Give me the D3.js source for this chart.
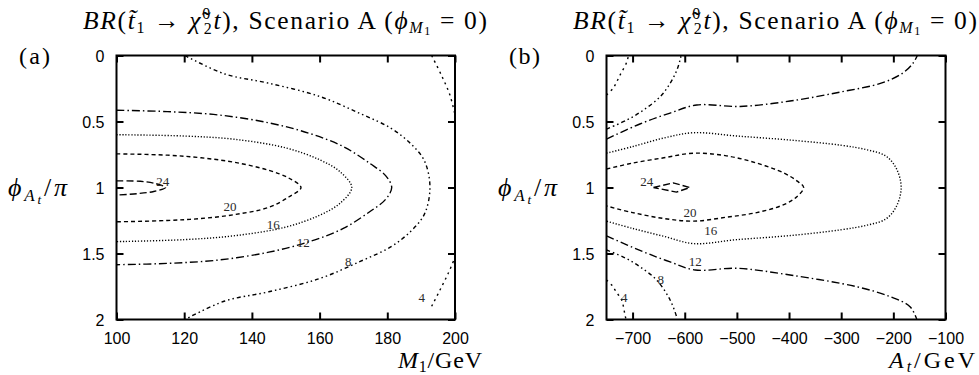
<!DOCTYPE html>
<html>
<head>
<meta charset="utf-8">
<script src="https://cdn.jsdelivr.net/npm/d3@7/dist/d3.min.js"></script>
<style>
  html, body { margin: 0; padding: 0; background: #fff; }
  svg { display: block; }
</style>
</head>
<body>
<svg id="chart" width="979" height="375"></svg>
<script>
// ---- axis ticks ----
const m1Ticks = [100, 120, 140, 160, 180, 200];
const atTicks = [-700, -600, -500, -400, -300, -200, -100];
const phiTicks = [0, 0.5, 1, 1.5, 2];
const phiTickLabels = ["0", "0.5", "1", "1.5", "2"];

// ---- contour levels (BR in %) and their line styles ----
const levels = [24, 20, 16, 12, 8, 4];
const levelDash = {
  24: "7,3",
  20: "4,3",
  16: "1.2,1.8",
  12: "8,3,1.5,3",
  8: "4,3,1.5,3,1.5,3",
  4: "2,4"
};

// ---- panel (a): contours in the (M1 [GeV], phi_At/pi) plane ----
const a24 = [[100, 0.95], [107, 0.953], [111.5, 0.97], [114.5, 1.0], [111, 1.03], [106, 1.047], [100, 1.057]];
const a20 = [[100, 0.745], [115, 0.755], [125, 0.775], [135, 0.81], [145, 0.87], [151, 0.93], [154.5, 1.0],
             [151, 1.07], [145, 1.15], [135, 1.205], [125, 1.235], [115, 1.25], [100, 1.26]];
const a16 = [[100, 0.60], [120, 0.61], [135, 0.635], [150, 0.70], [160, 0.79], [166, 0.88], [169.5, 1.0],
             [166, 1.12], [160, 1.21], [150, 1.30], [135, 1.365], [120, 1.395], [100, 1.41]];
const a12 = [[100, 0.415], [115, 0.425], [130, 0.45], [145, 0.51], [157, 0.59], [167, 0.69], [175, 0.82],
             [179.5, 0.91], [181.3, 1.0], [179.5, 1.09], [175, 1.18], [167, 1.31], [157, 1.41], [145, 1.49],
             [130, 1.55], [115, 1.575], [100, 1.585]];
const a8 = [[120.2, 0], [132, 0.14], [145, 0.21], [160, 0.31], [172, 0.44], [181, 0.55], [187, 0.67], [191, 0.8],
            [192.6, 1.0], [191, 1.2], [187, 1.33], [181, 1.45], [172, 1.56], [160, 1.69], [145, 1.79],
            [132, 1.86], [120.2, 2.0]];
const a4top = [[193.1, 0], [196, 0.15], [198.5, 0.3], [200, 0.45]];
const a4bottom = [[193.1, 1.9], [195.5, 1.78], [198, 1.65], [200, 1.53]];

// ---- panel (b): contours in the (A_t [GeV], phi_At/pi) plane ----
const b24 = [[-660, 1.0], [-622, 0.965], [-590, 1.0], [-616, 1.035], [-660, 1.0]];
const b20 = [[-750, 0.86], [-700, 0.815], [-640, 0.775], [-583, 0.74], [-520, 0.76], [-462, 0.815], [-410, 0.89],
             [-385, 0.95], [-372, 1.0], [-385, 1.07], [-410, 1.13], [-462, 1.19], [-520, 1.225], [-583, 1.255],
             [-640, 1.235], [-700, 1.19], [-750, 1.14]];
const b16 = [[-750, 0.74], [-700, 0.69], [-640, 0.625], [-583, 0.585], [-500, 0.61], [-400, 0.64], [-300, 0.68],
             [-250, 0.715], [-215, 0.76], [-195, 0.85], [-185, 1.0], [-195, 1.15], [-215, 1.24], [-250, 1.285],
             [-300, 1.32], [-400, 1.365], [-500, 1.395], [-583, 1.425], [-640, 1.37], [-700, 1.31], [-750, 1.255]];
const b12top = [[-750, 0.633], [-686, 0.519], [-628, 0.436], [-577, 0.375], [-494, 0.386], [-398, 0.345],
                [-302, 0.277], [-222, 0.208], [-182, 0.133], [-162, 0.057], [-154, 0]];
const b12bottom = [[-750, 1.367], [-680, 1.486], [-628, 1.564], [-580, 1.625], [-500, 1.612], [-398, 1.663],
                   [-270, 1.752], [-206, 1.827], [-168, 1.903], [-155, 2.0]];
const b8top = [[-750, 0.557], [-711, 0.489], [-679, 0.413], [-647, 0.312], [-628, 0.211], [-615, 0.11],
               [-609, 0.034], [-607, 0]];
const b8bottom = [[-750, 1.473], [-714, 1.534], [-686, 1.6], [-654, 1.701], [-628, 1.852], [-615, 1.989],
                  [-614.8, 2.0]];
const b4top = [[-750, 0.299], [-737, 0.246], [-724, 0.148], [-711, 0.049], [-708, 0]];
const b4bottom = [[-750, 1.701], [-740, 1.739], [-730, 1.799], [-721, 1.852], [-714.5, 1.966], [-712.6, 2.0]];

// ---- contour labels: [x, phi, level] ----
const aLabels = [[113.7, 0.956, 24], [133.5, 1.145, 20], [146.3, 1.284, 16], [155.2, 1.423, 12],
                 [168.5, 1.562, 8], [190.2, 1.839, 4]];
const bLabels = [[-673, 0.956, 24], [-590, 1.191, 20], [-550, 1.327, 16], [-580, 1.562, 12],
                 [-646, 1.701, 8], [-716, 1.839, 4]];

const SERIF = "'Liberation Serif', 'DejaVu Serif', serif";
const SANS = "'Liberation Sans', Arial, sans-serif";

const svg = d3.select("#chart");
svg.append("rect").attr("width", 979).attr("height", 375).attr("fill", "#fff");

function richText(sel, x, y, size, parts, anchor, len) {
  const t = sel.append("text").attr("x", x).attr("y", y)
    .attr("font-family", SERIF).attr("font-size", size).attr("fill", "#000");
  if (anchor) t.attr("text-anchor", anchor);
  if (len) t.attr("textLength", len).attr("lengthAdjust", "spacing");
  parts.forEach(p => {
    const s = t.append("tspan").text(p.t);
    if (p.i) s.attr("font-style", "italic");
    if (p.s) s.attr("font-size", p.s);
    if (p.dy) s.attr("dy", p.dy);
    if (p.dx) s.attr("dx", p.dx);
  });
  return t;
}

const titleParts = [
  {t: "BR", i: 1}, {t: "("}, {t: "t\u0303", i: 1}, {t: "1", s: 16, dy: 4}, {t: " \u2192 ", dy: -4},
  {t: "\u03C7\u0303", i: 1}, {t: "0", s: 16, dy: -10}, {t: "2", s: 16, dy: 15, dx: -8},
  {t: "t", i: 1, dy: -5}, {t: "), Scenario A ("}, {t: "\u03D5", i: 1},
  {t: "M", i: 1, s: 16, dy: 4}, {t: "1", s: 12, dy: 2}, {t: " = 0)", dy: -6}
];
const yLabelParts = [
  {t: "\u03D5", i: 1}, {t: "A", i: 1, s: 17, dy: 5}, {t: "t", i: 1, s: 13, dy: 3}, {t: "/", dy: -8}, {t: "\u03C0", i: 1}
];

function panel(cfg) {
  const x = d3.scaleLinear().domain(cfg.xDomain).range([cfg.left, cfg.right]);
  const y = d3.scaleLinear().domain([0, 2]).range([55.5, 319.5]);
  const g = svg.append("g");

  const clipId = "clip-" + cfg.name;
  svg.append("clipPath").attr("id", clipId).append("rect")
    .attr("x", cfg.left).attr("y", 55.5).attr("width", cfg.right - cfg.left).attr("height", 264);

  const line = d3.line().x(d => x(d[0])).y(d => y(d[1])).curve(d3.curveCatmullRom.alpha(0.5));
  const lineLin = d3.line().x(d => x(d[0])).y(d => y(d[1]));
  const cg = g.append("g").attr("clip-path", `url(#${clipId})`);
  cfg.curves.forEach(c => {
    cg.append("path").attr("d", (c.linear ? lineLin : line)(c.pts))
      .attr("fill", "none").attr("stroke", "#000").attr("stroke-width", 1.4)
      .attr("stroke-dasharray", levelDash[c.level]);
  });

  // contour labels
  g.selectAll("text.clab").data(cfg.labels).join("text").attr("class", "clab")
    .attr("x", d => x(d[0])).attr("y", d => y(d[1]) + 4)
    .attr("text-anchor", "middle").attr("font-family", SERIF).attr("font-size", 13)
    .attr("fill", "#2a2a2a").text(d => d[2]);

  // axes: ticks point into the frame on all four sides
  const tick = 7;
  const axB = g.append("g").attr("transform", "translate(0,319.5)")
    .call(d3.axisBottom(x).tickValues(cfg.xTicks).tickSize(-tick).tickPadding(19).tickFormat(d3.format("d")));
  const axT = g.append("g").attr("transform", "translate(0,55.5)")
    .call(d3.axisTop(x).tickValues(cfg.xTicks).tickSize(-tick).tickFormat(""));
  const axL = g.append("g").attr("transform", `translate(${cfg.left},0)`)
    .call(d3.axisLeft(y).tickValues(phiTicks).tickSize(-tick).tickPadding(12)
      .tickFormat((d, i) => phiTickLabels[i]));
  const axR = g.append("g").attr("transform", `translate(${cfg.right},0)`)
    .call(d3.axisRight(y).tickValues(phiTicks).tickSize(-tick).tickFormat(""));
  [axB, axT, axL, axR].forEach(a => {
    a.select(".domain").remove();
    a.selectAll(".tick line").attr("stroke", "#000").attr("stroke-width", 2);
    a.selectAll(".tick text").attr("font-family", SANS).attr("font-size", 16).attr("fill", "#000");
  });
  axB.selectAll(".tick text").attr("dy", "0.35em");
  axL.selectAll(".tick text").attr("dy", "0.35em");

  // frame
  g.append("rect").attr("x", cfg.left).attr("y", 55.5)
    .attr("width", cfg.right - cfg.left).attr("height", 264)
    .attr("fill", "none").attr("stroke", "#000").attr("stroke-width", 2);

  // texts
  richText(g, cfg.titleX, 29, 25.5, titleParts, null, 404);
  richText(g, cfg.tagX, 64, 24, [{t: cfg.tag}], null, 31);
  richText(g, cfg.yLabX, 196, 26, yLabelParts, null, 59);
  richText(g, cfg.xLabX, 368, 24, cfg.xLabParts, "end", cfg.xLabLen);
}

panel({
  name: "a", xDomain: [100, 200], left: 116.5, right: 455, xTicks: m1Ticks,
  curves: [
    {level: 24, pts: a24}, {level: 20, pts: a20}, {level: 16, pts: a16}, {level: 12, pts: a12},
    {level: 8, pts: a8}, {level: 4, pts: a4top}, {level: 4, pts: a4bottom}
  ],
  labels: aLabels, titleX: 83, tag: "(a)", tagX: 19, yLabX: 8, xLabX: 482, xLabLen: 84,
  xLabParts: [{t: "M", i: 1}, {t: "1", s: 16, dy: 4}, {t: "/GeV", dy: -4}]
});

panel({
  name: "b", xDomain: [-750, -100], left: 606.5, right: 945.5, xTicks: atTicks,
  curves: [
    {level: 24, pts: b24, linear: true}, {level: 20, pts: b20}, {level: 16, pts: b16},
    {level: 12, pts: b12top}, {level: 12, pts: b12bottom}, {level: 8, pts: b8top}, {level: 8, pts: b8bottom},
    {level: 4, pts: b4top}, {level: 4, pts: b4bottom}
  ],
  labels: bLabels, titleX: 573, tag: "(b)", tagX: 509, yLabX: 498, xLabX: 975, xLabLen: 86,
  xLabParts: [{t: "A", i: 1}, {t: "t", i: 1, s: 16, dy: 4}, {t: "/GeV", dy: -4}]
});
</script>
</body>
</html>
